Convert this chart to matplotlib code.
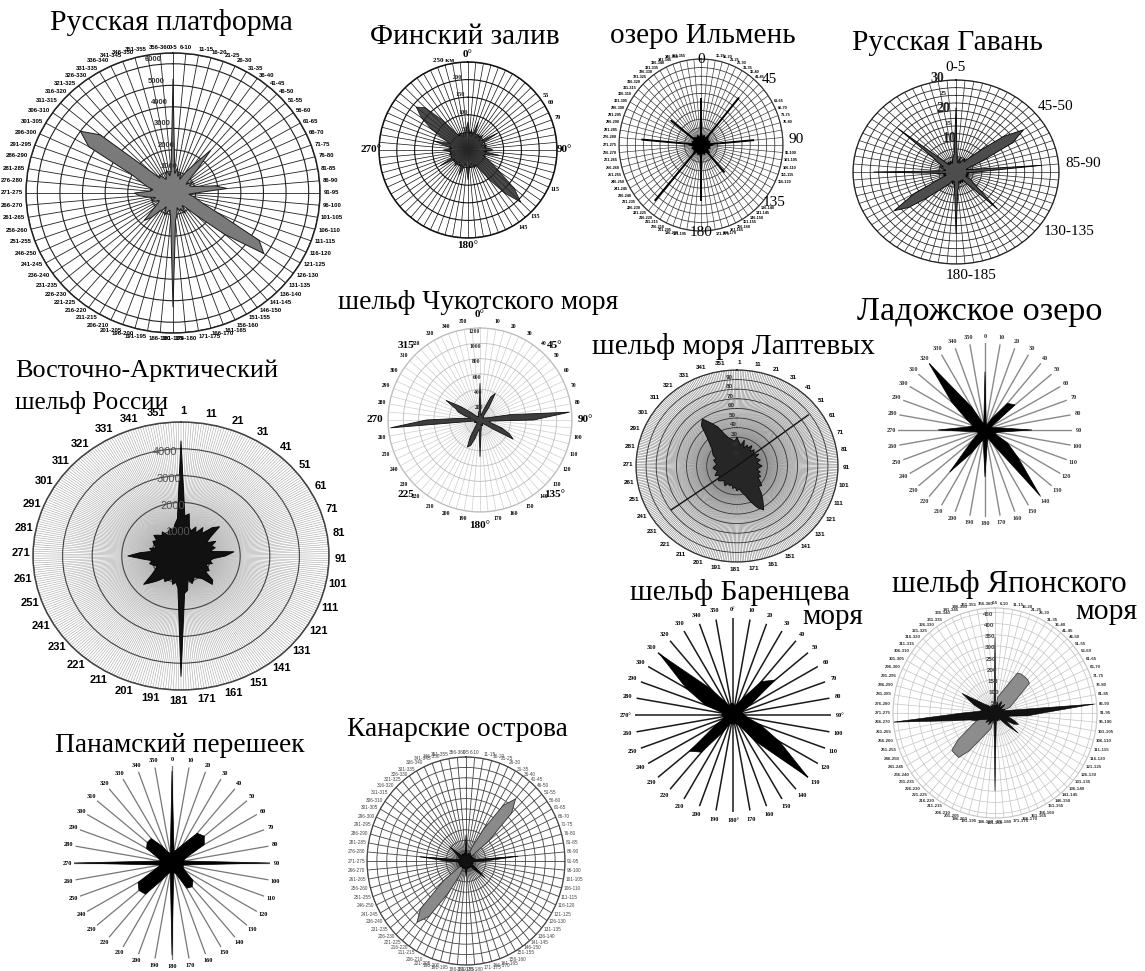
import numpy as np
import matplotlib
matplotlib.use("Agg")
import matplotlib.pyplot as plt

W, H = 1145, 971
SERIF = "Liberation Serif"
SANS = "Liberation Sans"

# ---------------- данные ----------------
dirs5 = np.arange(0, 360, 5)      # бины по 5°
dirs10 = np.arange(0, 360, 10)    # бины по 10°

# Русская платформа
rp_vals = [5300, 900, 1200, 800, 1000, 700, 1100, 1600, 2600, 1500, 900, 700,
           1000, 800, 900, 1200, 1900, 2400, 1000, 700, 900, 1100, 1400, 2200,
           4400, 4900, 3000, 1500, 900, 700, 1100, 800, 900, 700, 1000, 1300,
           5300, 1200, 800, 900, 1100, 700, 900, 1000, 1500, 1800, 1100, 800,
           700, 900, 1000, 800, 1100, 1500, 1700, 1000, 900, 1200, 1500, 2000,
           4300, 5000, 4200, 1500, 900, 1000, 800, 700, 900, 1100, 800, 1000]
rp_rings = [1000, 2000, 3000, 4000, 5000, 6000]

# Финский залив (км)
fin_vals = [80, 45, 60, 40, 85, 50, 40, 55, 45, 60, 40, 50,
            95, 45, 40, 55, 45, 60, 70, 45, 90, 50, 45, 60,
            80, 110, 170, 210, 160, 100, 60, 45, 55, 40, 50, 45,
            85, 50, 40, 55, 75, 45, 50, 40, 60, 45, 50, 45,
            90, 50, 40, 55, 45, 50, 70, 45, 60, 100, 55, 80,
            120, 160, 190, 170, 110, 60, 45, 55, 40, 50, 45, 60]
fin_rings = [50, 100, 150, 200, 250]
fin_small_dirs = [55, 60, 70, 115, 135, 145]

# озеро Ильмень
ilm_line_dirs = [0, 40, 85, 138, 180, 221, 275, 308]
ilm_line_vals = [55, 72, 65, 43, 65, 86, 73, 47]
ilm_core = [18, 10, 12, 9, 14, 11, 10, 12, 9, 15, 10, 12, 9, 14, 11, 10, 12, 9,
            20, 10, 12, 9, 14, 11, 10, 12, 9, 15, 10, 12, 9, 14, 11, 10, 12, 9]
ilm_big_dirs = [0, 48, 87, 127, 180]
ilm_big_r = [99, 113, 116, 112, 102]
ilm_big_labels = ["0", "45", "90", "135", "180"]

# Русская Гавань
gav_vals = [21, 4, 3, 5, 3, 4, 5, 4, 6, 10, 18, 24,
            19, 8, 4, 3, 5, 25, 6, 3, 4, 3, 4, 3,
            5, 6, 9, 17, 5, 3, 4, 3, 4, 3, 5, 6,
            20, 5, 3, 4, 3, 4, 5, 6, 8, 12, 18, 22,
            14, 5, 3, 4, 3, 5, 24, 4, 3, 4, 5, 4,
            6, 8, 22, 5, 3, 4, 3, 4, 3, 4, 5, 6]
gav_rings = [2.5, 5, 7.5, 10, 12.5, 15, 17.5, 20, 22.5, 25, 27.5, 30]
gav_big_dirs = [0, 48, 85, 127, 172]
gav_big_labels = ["0-5", "45-50", "85-90", "130-135", "180-185"]

# шельф Чукотского моря
chuk_vals = [480, 100, 80, 60, 150, 330, 400, 200, 80, 60, 50, 60,
             50, 60, 80, 120, 400, 1170, 700, 150, 120, 150, 300, 420,
             500, 200, 100, 80, 60, 50, 60, 80, 70, 60, 100, 150,
             480, 120, 150, 250, 350, 390, 250, 100, 60, 50, 60, 50,
             60, 80, 70, 60, 80, 1170, 700, 250, 120, 200, 300, 350,
             510, 300, 150, 80, 60, 50, 60, 50, 60, 80, 100, 120]
chuk_rings = [200, 400, 600, 800, 1000, 1200]
chuk_big_dirs = [0, 45, 90, 135, 180, 225, 270, 315]
chuk_big_labels = ["0°", "45°", "90°", "135°", "180°", "225", "270", "315"]

# Ладожское озеро
lad_vals = [0.67, 0.08, 0.06, 0.15, 0.4, 0.45, 0.1, 0.08, 0.15, 0.54, 0.15, 0.12,
            0.3, 0.5, 0.98, 0.2, 0.1, 0.15, 0.54, 0.12, 0.15, 0.3, 0.63, 0.2,
            0.1, 0.08, 0.12, 0.54, 0.2, 0.15, 0.25, 0.5, 1.0, 0.3, 0.1, 0.08]

# Восточно-Арктический шельф России
ea_vals = [4300, 1500, 1600, 1100, 1000, 1200, 1000, 1300, 1100, 1500, 1700, 1200,
           1000, 1300, 1100, 1200, 1000, 1800, 1500, 1100, 1000, 1100, 900, 1000,
           1100, 1000, 1400, 1500, 1100, 1000, 900, 1000, 1100, 900, 1300, 1400,
           4500, 1200, 1000, 1100, 900, 1000, 1100, 1000, 1200, 1400, 1650, 1200,
           1000, 900, 1000, 1100, 1000, 1300, 1800, 1400, 1000, 1100, 900, 1000,
           1100, 1000, 1200, 1100, 1000, 1100, 900, 1000, 1100, 1000, 1200, 1400]
ea_rings = [1000, 2000, 3000, 4000, 5000]
ea_label_dirs = np.arange(1, 360, 10)

# шельф моря Лаптевых
lap_vals = [30, 25, 22, 28, 20, 24, 22, 26, 20, 24, 22, 20,
            25, 20, 22, 24, 20, 22, 25, 22, 20, 24, 22, 26,
            24, 28, 32, 30, 38, 45, 53, 48, 40, 32, 28, 24,
            26, 22, 24, 20, 22, 20, 24, 22, 20, 22, 24, 22,
            20, 24, 22, 20, 22, 24, 22, 20, 22, 24, 22, 26,
            28, 30, 35, 42, 55, 60, 52, 45, 35, 30, 28, 26]
lap_line_dirs = [53, 235]
lap_line_vals = [89, 80]
lap_rings = [10, 20, 30, 40, 50, 60, 70, 80, 90, 100]

# шельф Баренцева моря
bar_vals = [0.12, 0.1, 0.12, 0.2, 0.45, 0.56, 0.2, 0.1, 0.1, 0.12, 0.15, 0.3,
            0.55, 1.0, 0.35, 0.12, 0.1, 0.08, 0.1, 0.08, 0.1, 0.2, 0.5, 0.58,
            0.2, 0.1, 0.1, 0.12, 0.1, 0.3, 0.55, 0.98, 0.35, 0.15, 0.1, 0.12]

# шельф Японского моря
jap_petal = [0, 0, 72, 85, 105, 139, 207, 212, 212, 212, 207, 139,
             105, 85, 72, 0, 0, 0, 0, 0, 0, 0, 0, 0,
             0, 0, 0, 0, 0, 0, 0, 0, 0, 0, 0, 0,
             0, 0, 0, 72, 85, 105, 139, 207, 260, 260, 260, 207,
             139, 105, 85, 72, 0, 0, 0, 0, 0, 0, 0, 0,
             0, 0, 0, 0, 0, 0, 0, 0, 0, 0, 0, 0]
jap_spike = [340, 40, 30, 50, 30, 40, 60, 50, 30, 40, 60, 40,
             30, 40, 50, 40, 70, 460, 220, 150, 80, 60, 90, 120,
             100, 60, 140, 80, 40, 30, 40, 30, 40, 30, 40, 60,
             350, 50, 40, 30, 40, 50, 60, 40, 50, 60, 40, 50,
             60, 70, 100, 120, 200, 470, 150, 80, 60, 70, 100, 130,
             175, 90, 60, 50, 40, 30, 40, 30, 40, 30, 40, 50]
jap_rings = [50, 100, 150, 200, 250, 300, 350, 400, 450]

# Панамский перешеек
pan_vals = [0.95, 0.12, 0.15, 0.22, 0.4, 0.43, 0.38, 0.15, 0.12, 1.0, 0.12, 0.12,
            0.15, 0.28, 0.32, 0.3, 0.12, 0.1, 0.95, 0.1, 0.12, 0.2, 0.42, 0.44,
            0.4, 0.18, 0.12, 1.0, 0.12, 0.15, 0.3, 0.33, 0.33, 0.2, 0.12, 0.1]

# Канарские острова
can_petal = [0, 0, 0, 0, 0, 15, 35, 65, 78, 65, 30, 0,
             0, 0, 0, 0, 0, 0, 0, 0, 0, 0, 0, 0,
             0, 0, 0, 0, 0, 0, 0, 0, 0, 0, 0, 0,
             0, 0, 0, 0, 0, 15, 35, 65, 77, 65, 30, 0,
             0, 0, 0, 0, 0, 0, 0, 0, 0, 0, 0, 0,
             0, 0, 0, 0, 0, 0, 0, 0, 0, 0, 0, 0]
can_spike = [25, 8, 6, 7, 8, 6, 9, 8, 7, 6, 8, 7,
             6, 8, 7, 9, 8, 53, 20, 7, 6, 8, 7, 6,
             8, 14, 25, 12, 7, 6, 8, 7, 6, 8, 7, 9,
             15, 7, 6, 8, 7, 6, 8, 7, 6, 8, 7, 6,
             8, 7, 6, 8, 7, 9, 20, 47, 8, 7, 6, 8,
             9, 12, 22, 10, 7, 6, 8, 7, 6, 8, 7, 9]
ten_rings = [10, 20, 30, 40, 50, 60, 70, 80, 90, 100]

range_labels = ["0-5"] + [f"{a + 1}-{a + 5}" for a in dirs5[1:]]

fig = plt.figure(figsize=(W / 100, H / 100), dpi=100)
fig.patch.set_facecolor("white")


def rose_axes(cx, cy, rx, ry, rmax):
    ax = fig.add_axes([(cx - rx) / W, 1 - (cy + ry) / H, 2 * rx / W, 2 * ry / H],
                      projection="polar")
    ax.set_aspect("auto")
    ax.set_theta_zero_location("N")
    ax.set_theta_direction(-1)
    ax.set_ylim(0, rmax)
    ax.set_axisbelow(True)
    ax.patch.set_visible(False)
    ax.tick_params(length=0)
    return ax


def grid(ax, spokes, rings, spoke_c, spoke_lw, ring_c="#333", ring_lw=0.6, spine=True):
    ax.set_xticks(np.deg2rad(spokes))
    ax.set_yticks(rings)
    ax.set_xticklabels([])
    ax.set_yticklabels([])
    ax.xaxis.grid(True, color=spoke_c, lw=spoke_lw)
    ax.yaxis.grid(True, color=ring_c, lw=ring_lw)
    ax.spines["polar"].set_visible(spine)
    ax.spines["polar"].set_color(ring_c)
    ax.spines["polar"].set_linewidth(ring_lw + 0.3)


def rose(ax, dirs, vals, color, edge=None, lw=0.5, alpha=1.0):
    ax.fill(np.deg2rad(dirs), vals, facecolor=color, edgecolor=edge or color,
            lw=lw, alpha=alpha, zorder=3)


def ring_text(ax, dirs, labels, r, size, family=SANS, weight="bold", color="black", align=False):
    rs = r if np.ndim(r) else [r] * len(labels)
    for d, s, rr in zip(dirs, labels, rs):
        th = np.deg2rad(d)
        ha, va = "center", "center"
        if align:
            sn, cs = np.sin(th), np.cos(th)
            ha = "left" if sn > 0.15 else "right" if sn < -0.15 else "center"
            va = "bottom" if cs > 0.9 else "top" if cs < -0.9 else "center"
        ax.text(th, rr, s, ha=ha, va=va, fontsize=size, family=family,
                weight=weight, color=color, clip_on=False, zorder=5)


def radial_text(ax, values, theta_deg, size, family=SANS, weight="bold", color="#222", dr=0):
    for v in values:
        ax.text(np.deg2rad(theta_deg), v + dr, f"{v:g}", ha="center", va="center",
                fontsize=size, family=family, weight=weight, color=color, zorder=6)


def title(text, x0, x1, yc):
    t = fig.text(x0 / W, 1 - yc / H, text, fontsize=20, family=SERIF,
                 ha="left", va="center")
    w = t.get_window_extent(renderer=fig.canvas.get_renderer()).width
    t.set_fontsize(20 * (x1 - x0) / w)


# 1. Русская платформа
ax = rose_axes(173, 193, 147, 140, 6500)
grid(ax, dirs5, rp_rings + [6500], "#222", 0.6, "#222", 0.8)
rose(ax, dirs5, rp_vals, "#7a7a7a", "#1a1a1a", 0.7)
ring_text(ax, dirs5, range_labels, 6650, 4.3, align=True)
radial_text(ax, rp_rings, 352, 5.5, color="#333", dr=250)

# 2. Финский залив
ax = rose_axes(468, 150, 89, 88, 250)
grid(ax, dirs5, fin_rings, "#111", 0.5, "#111", 0.8)
rose(ax, dirs5, fin_vals, "#2a2a2a", "#000", 0.5, alpha=0.85)
ring_text(ax, [0, 90, 180, 270], ["0°", "90°", "180°", "270°"], 272, 8, family=SERIF)
ring_text(ax, [345], ["250 км"], 262, 5, family=SERIF)
ring_text(ax, fin_small_dirs, [str(d) for d in fin_small_dirs], 268, 4.5, family=SERIF)
radial_text(ax, fin_rings[:-1], 352, 4.5, family=SERIF, dr=8)

# 3. озеро Ильмень
ax = rose_axes(701, 145, 82, 86, 100)
grid(ax, dirs5, ten_rings, "#333", 0.45, "#333", 0.55)
ax.vlines(np.deg2rad(ilm_line_dirs), 0, ilm_line_vals, color="black", lw=1.4, zorder=4)
rose(ax, dirs10, ilm_core, "#000", "#000", 0.5)
small = [(d, s) for d, s in zip(dirs5, range_labels)
         if min(abs(d - b) % 360 for b in ilm_big_dirs + [360]) > 7]
ring_text(ax, [d for d, _ in small], [s for _, s in small], 103, 2.8, align=True)
ring_text(ax, ilm_big_dirs, ilm_big_labels, ilm_big_r, 11, family=SERIF, weight="normal")

# 4. Русская Гавань
ax = rose_axes(956, 172, 103, 92, 30)
grid(ax, dirs5, gav_rings, "#222", 0.5, "#222", 0.6)
rose(ax, dirs5, gav_vals, "#4d4d4d", "#000", 0.6)
ring_text(ax, gav_big_dirs, gav_big_labels, 32, 11, family=SERIF, weight="normal", align=True)
radial_text(ax, [10, 20, 30], 350, 10, family=SERIF, dr=1)
radial_text(ax, [5, 15, 25], 352, 5, family=SERIF, dr=1)

# 5. шельф Чукотского моря
ax = rose_axes(480, 420, 92, 92, 1200)
grid(ax, dirs5, chuk_rings, "#cfcfcf", 0.5, "#bdbdbd", 0.6)
rose(ax, dirs5, chuk_vals, "#3d3d3d", "#111", 0.6)
tiny = [d for d in dirs10 if d % 90 != 0]
ring_text(ax, tiny, [str(d) for d in tiny], 1300, 4, family=SERIF)
ring_text(ax, chuk_big_dirs, chuk_big_labels, 1370, 8, family=SERIF)
radial_text(ax, chuk_rings, 356, 4, family=SERIF, dr=-40)

# 6. Ладожское озеро
ax = rose_axes(985, 430, 87, 87, 1.0)
grid(ax, dirs10, [], "#8a8a8a", 1.0, spine=False)
rose(ax, dirs10, lad_vals, "#000", "#000", 0.5)
ring_text(ax, dirs10, [str(d) for d in dirs10], 1.08, 4.5, family=SERIF, color="#333")

# 7. Восточно-Арктический шельф России
ax = rose_axes(181, 556, 148, 134, 5000)
grid(ax, np.arange(0, 360, 1), ea_rings, "#9a9a9a", 0.35, "#444", 0.8)
rose(ax, dirs5, ea_vals, "#111", "#000", 0.6)
ring_text(ax, ea_label_dirs, [str(d) for d in ea_label_dirs], 5400, 8)
radial_text(ax, ea_rings[:-1], 352, 8, weight="normal", color="#555", dr=-100)

# 8. шельф моря Лаптевых
ax = rose_axes(737, 466, 101, 96, 100)
grid(ax, np.arange(0, 360, 1), lap_rings, "#6a6a6a", 0.35, "#333", 0.6)
rose(ax, dirs5, lap_vals, "#262626", "#000", 0.5)
ax.vlines(np.deg2rad(lap_line_dirs), 0, lap_line_vals, color="#111", lw=1.0, zorder=4)
ring_text(ax, ea_label_dirs, [str(d) for d in ea_label_dirs], 108, 4.5)
radial_text(ax, lap_rings[:-1], 355, 4.5, color="#333", dr=3)

# 9. шельф Баренцева моря
ax = rose_axes(733, 715, 98, 97, 1.0)
grid(ax, dirs10, [], "#1a1a1a", 1.1, spine=False)
rose(ax, dirs10, bar_vals, "#000", "#000", 0.5)
bar_labels = [f"{d}°" if d % 90 == 0 else str(d) for d in dirs10]
ring_text(ax, dirs10, bar_labels, 1.09, 4.5, family=SERIF)

# 10. шельф Японского моря
ax = rose_axes(995, 713, 102, 105, 470)
grid(ax, dirs5, jap_rings, "#c4c4c4", 0.5, "#c4c4c4", 0.5)
rose(ax, dirs5, jap_petal, "#8c8c8c", "#444", 0.6)
rose(ax, dirs5, jap_spike, "#111", "#000", 0.4)
ring_text(ax, dirs5, range_labels, 482, 3.2, color="#333", align=True)
radial_text(ax, jap_rings, 356, 4.5, color="#444", dr=-8)

# 11. Панамский перешеек
ax = rose_axes(172, 863, 98, 97, 1.0)
grid(ax, dirs10, [], "#777", 0.9, spine=False)
rose(ax, dirs10, pan_vals, "#000", "#000", 0.5)
ring_text(ax, dirs10, [str(d) for d in dirs10], 1.07, 4.5, family=SERIF)

# 12. Канарские острова
ax = rose_axes(466, 861, 99, 104, 100)
grid(ax, dirs5, ten_rings, "#444", 0.6, "#444", 0.6)
rose(ax, dirs5, can_petal, "#8a8a8a", "#333", 0.6)
rose(ax, dirs5, can_spike, "#111", "#000", 0.5)
ring_text(ax, dirs5, range_labels, 102, 3.4, weight="normal", color="#444", align=True)

# заголовки
title("Русская платформа", 50, 293, 23)
title("Финский залив", 370, 560, 37)
title("озеро Ильмень", 610, 795, 36)
title("Русская Гавань", 852, 1043, 43)
title("шельф Чукотского моря", 338, 618, 302)
title("Ладожское озеро", 857, 1102, 312)
title("Восточно-Арктический", 15, 277, 371)
title("шельф России", 15, 168, 402)
title("шельф моря Лаптевых", 592, 875, 346)
title("шельф Баренцева", 630, 850, 592)
title("моря", 802, 863, 617)
title("шельф Японского", 892, 1127, 584)
title("моря", 1075, 1137, 612)
title("Панамский перешеек", 55, 305, 746)
title("Канарские острова", 347, 568, 730)

fig.savefig("out.png", dpi=100)
